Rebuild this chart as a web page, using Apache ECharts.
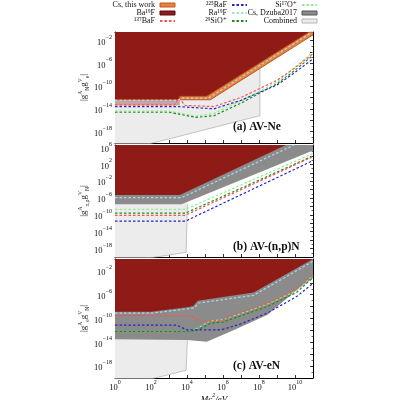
<!DOCTYPE html>
<html><head><meta charset="utf-8">
<script src="https://cdn.jsdelivr.net/npm/echarts/dist/echarts.min.js"></script>
<style>html,body{margin:0;padding:0;background:#fff}#c{width:400px;height:400px}</style>
</head><body><div id="c"></div><script>
const F = "'Liberation Serif','DejaVu Serif',serif";

// x = log10(Mc^2/eV), y = log10|coupling|
const xRange = [0, 11];
const xLabelDecades = [0, 2, 4, 6, 8, 10];

// ---- Panel (a) AV-Ne ----
const aRange = [-20, -0.5];
const aBa19F = [[0,-12.4],[3.6,-12.4],[3.6,-11.8],[5.1,-11.8],[10.8,-0.5],[11,-0.5]];
const aCsThisWork = [[3.6,-12.4],[5.3,-12.4],[11,-1.0]];
const aShade = [[0,-13.4],[3.6,-13.4]];
const aCombined = [[0,-21.7],[8.05,-15.2],[8.05,-6.9]];
const aRa19F = [[0,-12.5],[3.5,-12.5],[3.7,-12.1],[5.2,-12.1],[10.85,-0.7]];
const aBaF137 = [[0,-13.3],[3.3,-13.3],[3.55,-12.1],[3.9,-13.4],[5.5,-13.6],[7,-12.0],[9,-9.0],[10,-6.8],[11,-4.3]];
const aRaF225 = [[0,-13.6],[3.5,-13.6],[4,-13.7],[5.5,-14.0],[7,-12.5],[9,-9.8],[10,-7.6],[11,-5.2]];
const aSiO29 = [[0,-14.6],[3,-14.6],[4.5,-15.5],[5.5,-15.2],[7,-13.0],[9,-9.6],[10,-7.2],[11,-4.6]];
const aSiO17 = [[0,-14.4],[3,-14.4],[4.5,-15.3],[5.5,-14.8],[7,-12.6],[9,-9.3],[10,-6.7],[11,-4.05]];

// ---- Panel (b) AV-(n,p)N ----
const bRange = [-20, 6.6];
const bBa19F = [[0,-5.3],[3.6,-5.3],[9.5,6.6]];
const bDzuba = [[0,-7.5],[3.7,-7.5],[11,5.3]];
const bCombined = [[0,-21.5],[3.95,-18.9],[4.02,-7.5]];
const bRa19F = [[0,-5.9],[3.7,-5.9],[9.95,6.6]];
const bSiO17 = [[0,-8.7],[3.9,-8.7],[11,4.6]];
const bSiO29 = [[0,-9.6],[3.9,-9.6],[11,4.0]];
const bBaF137 = [[0,-10.1],[3.9,-10.1],[11,3.85]];
const bRaF225 = [[0,-11.5],[3.9,-11.5],[11,2.9]];

// ---- Panel (c) AV-eN ----
const cRange = [-20, 0];
const cBa19F = [[0,-8.85],[2,-8.85],[4,-8.1],[4.35,-7.9],[4.6,-7.0],[7.7,-5.65],[11,0]];
const cDzuba = [[0,-13.5],[4,-13.6],[5.1,-13.9],[6.55,-12.0],[8.45,-9.4],[10.1,-5.2],[11,-3.2]];
const cCombined = [[0,-21.7],[3.95,-18.7],[4.02,-13.6]];
const cRa19F = [[0,-9.1],[2,-9.1],[4,-8.4],[4.4,-8.2],[4.65,-7.4],[7.7,-6.1],[11,-0.4]];
const cBaF137 = [[0,-9.5],[4,-9.5],[5,-10.5],[5.9,-10.4],[6.55,-9.4],[8.45,-7.45],[10.1,-5.0],[11,-2.6]];
const cSiO17 = [[0,-12.2],[4,-12.2],[4.6,-11.6],[5.3,-10.4],[6,-10.2],[8.45,-7.6],[10.1,-5.3],[11,-2.8]];
const cSiO29 = [[0,-12.2],[4,-12.2],[4.6,-11.9],[5.3,-10.8],[6,-10.6],[8.45,-8.0],[10.1,-5.6],[11,-3.1]];
const cRaF225 = [[0,-11.1],[3.4,-11.1],[4,-11.9],[5.9,-11.9],[7,-10.9],[8.45,-9.1],[10.1,-6.3],[11,-4.1]];

const C = {
  cs:'#e5833f', csEdge:'#c4561a', ba:'#8f1b16', dz:'#8b8b8b', comb:'#ececec', combEdge:'#b5b5b5',
  shade:'#c9a3a3', red:'#ff4f4f', blue:'#2525c8', lblue:'#a9d9ec', dgreen:'#1e8c1e', lgreen:'#8fec8f'
};
const N = {cs:'Cs, this work', ba:'Ba¹⁹F', baf:'¹³⁷BaF', raf:'²²⁵RaF', ra19:'Ra¹⁹F', sio29:'²⁹SiO⁺', sio17:'Si¹⁷O⁺', dz:'Cs, Dzuba2017', comb:'Combined'};

const grids = [
  {left:115, top:32, width:198, height:111},
  {left:115, top:145, width:198, height:112},
  {left:115, top:259, width:198, height:119}
];
const yRanges = [aRange, bRange, cRange];
const yNames = [
  '{t|\u007Cg}{p|A}{q|N}{t|g}{p|V}{q|e}{t|\u007C}',
  '{t|\u007Cg}{p|A}{q|n,p}{t|g}{p|V}{q|N}{t|\u007C}',
  '{t|\u007Cg}{p|A}{q|e}{t|g}{p|V}{q|N}{t|\u007C}'
];
const axRich = {
  b:{fontFamily:F, fontSize:8.5, lineHeight:9, padding:[4,0,0,0], color:'#111'},
  s:{fontFamily:F, fontSize:6, lineHeight:6, padding:[0,0,7,0], color:'#111'}
};
function expLabel(v){ return '{b|10}{s|' + (v<0 ? '\u2212'+(-v) : v) + '}'; }
const tick = {show:true, inside:true, length:3, lineStyle:{color:'#000', width:0.8}};
const axLine = {show:true, onZero:false, lineStyle:{color:'#000', width:1}};

const xAxis = [], yAxis = [];
grids.forEach((g, i) => {
  const last = i === 2;
  xAxis.push({type:'value', gridIndex:i, min:xRange[0], max:xRange[1], interval:1, position:'bottom',
    axisLine:axLine, axisTick:tick, splitLine:{show:false},
    axisLabel:{show:last, margin:3, rich:axRich, formatter:v => (xLabelDecades.includes(v) ? expLabel(v) : '')},
    name: last ? '{i|Mc}{s|2}{i|/eV}' : '', nameLocation:'middle', nameGap:11,
    nameTextStyle:{rich:{i:{fontFamily:F, fontStyle:'italic', fontSize:9, lineHeight:11, verticalAlign:'bottom'}, s:{fontFamily:F, fontStyle:'italic', fontSize:6, lineHeight:6, verticalAlign:'top'}}}});
  xAxis.push({type:'value', gridIndex:i, min:xRange[0], max:xRange[1], interval:1, position:'top',
    axisLine:axLine, axisTick:tick, splitLine:{show:false}, axisLabel:{show:false}});
  const r = yRanges[i];
  yAxis.push({type:'value', gridIndex:i, min:r[0], max:r[1], interval:2, position:'left',
    axisLine:axLine, axisTick:tick, minorTick:{show:true, splitNumber:2, length:1.5, lineStyle:{color:'#000', width:0.6}},
    splitLine:{show:false}, minorSplitLine:{show:false},
    axisLabel:{margin:3, rich:axRich, formatter:v => (Number.isInteger(v) && (((v+2)%4)+4)%4===0 ? expLabel(v) : '')},
    name:yNames[i], nameLocation:'middle', nameGap:24, nameRotate:90,
    nameTextStyle:{rich:{
      t:{fontFamily:F, fontSize:9, lineHeight:13, verticalAlign:'middle', color:'#222'},
      p:{fontFamily:F, fontSize:5.5, lineHeight:5, verticalAlign:'top', color:'#222'},
      q:{fontFamily:F, fontSize:5.5, lineHeight:5, verticalAlign:'bottom', color:'#222'}}}});
  yAxis.push({type:'value', gridIndex:i, min:r[0], max:r[1], interval:2, position:'right',
    axisLine:axLine, axisTick:tick, minorTick:{show:true, splitNumber:2, length:1.5, lineStyle:{color:'#000', width:0.6}},
    splitLine:{show:false}, axisLabel:{show:false}});
});

function area(name, data, gi, color, edge, edgeW){
  return {type:'line', name, data, xAxisIndex:2*gi, yAxisIndex:2*gi, symbol:'none', silent:true,
    lineStyle:{color:edge||color, width:edgeW||0}, itemStyle:{color}, areaStyle:{color, opacity:1, origin:'end'}};
}
function dash(name, data, gi, color){
  return {type:'line', name, data, xAxisIndex:2*gi, yAxisIndex:2*gi, symbol:'none', silent:true,
    lineStyle:{color, width:1.2, type:[2.5,2]}, itemStyle:{color}};
}

const series = [
  // (a)
  area(N.comb, aCombined, 0, C.comb, C.combEdge, 0.8),
  area('', aShade, 0, C.shade),
  area(N.cs, aCsThisWork, 0, C.cs, C.csEdge, 1),
  area(N.ba, aBa19F, 0, C.ba, C.csEdge, 0.8),
  dash(N.sio17, aSiO17, 0, C.lgreen),
  dash(N.sio29, aSiO29, 0, C.dgreen),
  dash(N.raf, aRaF225, 0, C.blue),
  dash(N.baf, aBaF137, 0, C.red),
  dash(N.ra19, aRa19F, 0, C.lblue),
  // (b)
  area(N.comb, bCombined, 1, C.comb, C.combEdge, 0.8),
  area(N.dz, bDzuba, 1, C.dz),
  area(N.ba, bBa19F, 1, C.ba),
  dash(N.sio17, bSiO17, 1, C.lgreen),
  dash(N.sio29, bSiO29, 1, C.dgreen),
  dash(N.baf, bBaF137, 1, C.red),
  dash(N.raf, bRaF225, 1, C.blue),
  dash(N.ra19, bRa19F, 1, C.lblue),
  // (c)
  area(N.comb, cCombined, 2, C.comb, C.combEdge, 0.8),
  area(N.dz, cDzuba, 2, C.dz),
  area(N.ba, cBa19F, 2, C.ba),
  dash(N.sio17, cSiO17, 2, C.lgreen),
  dash(N.sio29, cSiO29, 2, C.dgreen),
  dash(N.raf, cRaF225, 2, C.blue),
  dash(N.baf, cBaF137, 2, C.red),
  dash(N.ra19, cRa19F, 2, C.lblue)
];

const noSym = {color:'rgba(0,0,0,0)', borderWidth:0};
const legendBase = {orient:'vertical', align:'right', top:1, padding:0, itemWidth:15, itemHeight:4, itemGap:0, selectedMode:false,
  textStyle:{fontFamily:F, fontSize:8, lineHeight:7, color:'#111'}};
const legend = [
  Object.assign({}, legendBase, {right:224, data:[
    {name:N.cs, icon:'rect', itemStyle:{color:C.cs, borderColor:C.csEdge, borderWidth:1}},
    {name:N.ba, icon:'rect', itemStyle:{color:C.ba, borderColor:'#5a0c0c', borderWidth:1}},
    {name:N.baf, itemStyle:noSym}]}),
  Object.assign({}, legendBase, {right:152, data:[
    {name:N.raf, itemStyle:noSym}, {name:N.ra19, itemStyle:noSym}, {name:N.sio29, itemStyle:noSym}]}),
  Object.assign({}, legendBase, {right:82, data:[
    {name:N.sio17, itemStyle:noSym},
    {name:N.dz, icon:'rect', itemStyle:{color:C.dz, borderColor:'#555', borderWidth:1}},
    {name:N.comb, icon:'rect', itemStyle:{color:C.comb, borderColor:C.combEdge, borderWidth:1}}]})
];

const titles = [
  {text:'(a) AV-Ne', left:233, top:121},
  {text:'(b) AV-(n,p)N', left:233, top:241},
  {text:'(c) AV-eN', left:233, top:360}
].map(t => Object.assign(t, {padding:0, textStyle:{fontFamily:F, fontSize:11.5, fontWeight:'bold', color:'#111'}}));

const chart = echarts.init(document.getElementById('c'), null, {renderer:'canvas'});
chart.setOption({
  animation:false, backgroundColor:'#fff',
  title:titles, legend,
  grid:grids.map(g => Object.assign({}, g, {containLabel:false, outerBoundsMode:'none', show:false})),
  xAxis, yAxis, series
});
</script></body></html>
